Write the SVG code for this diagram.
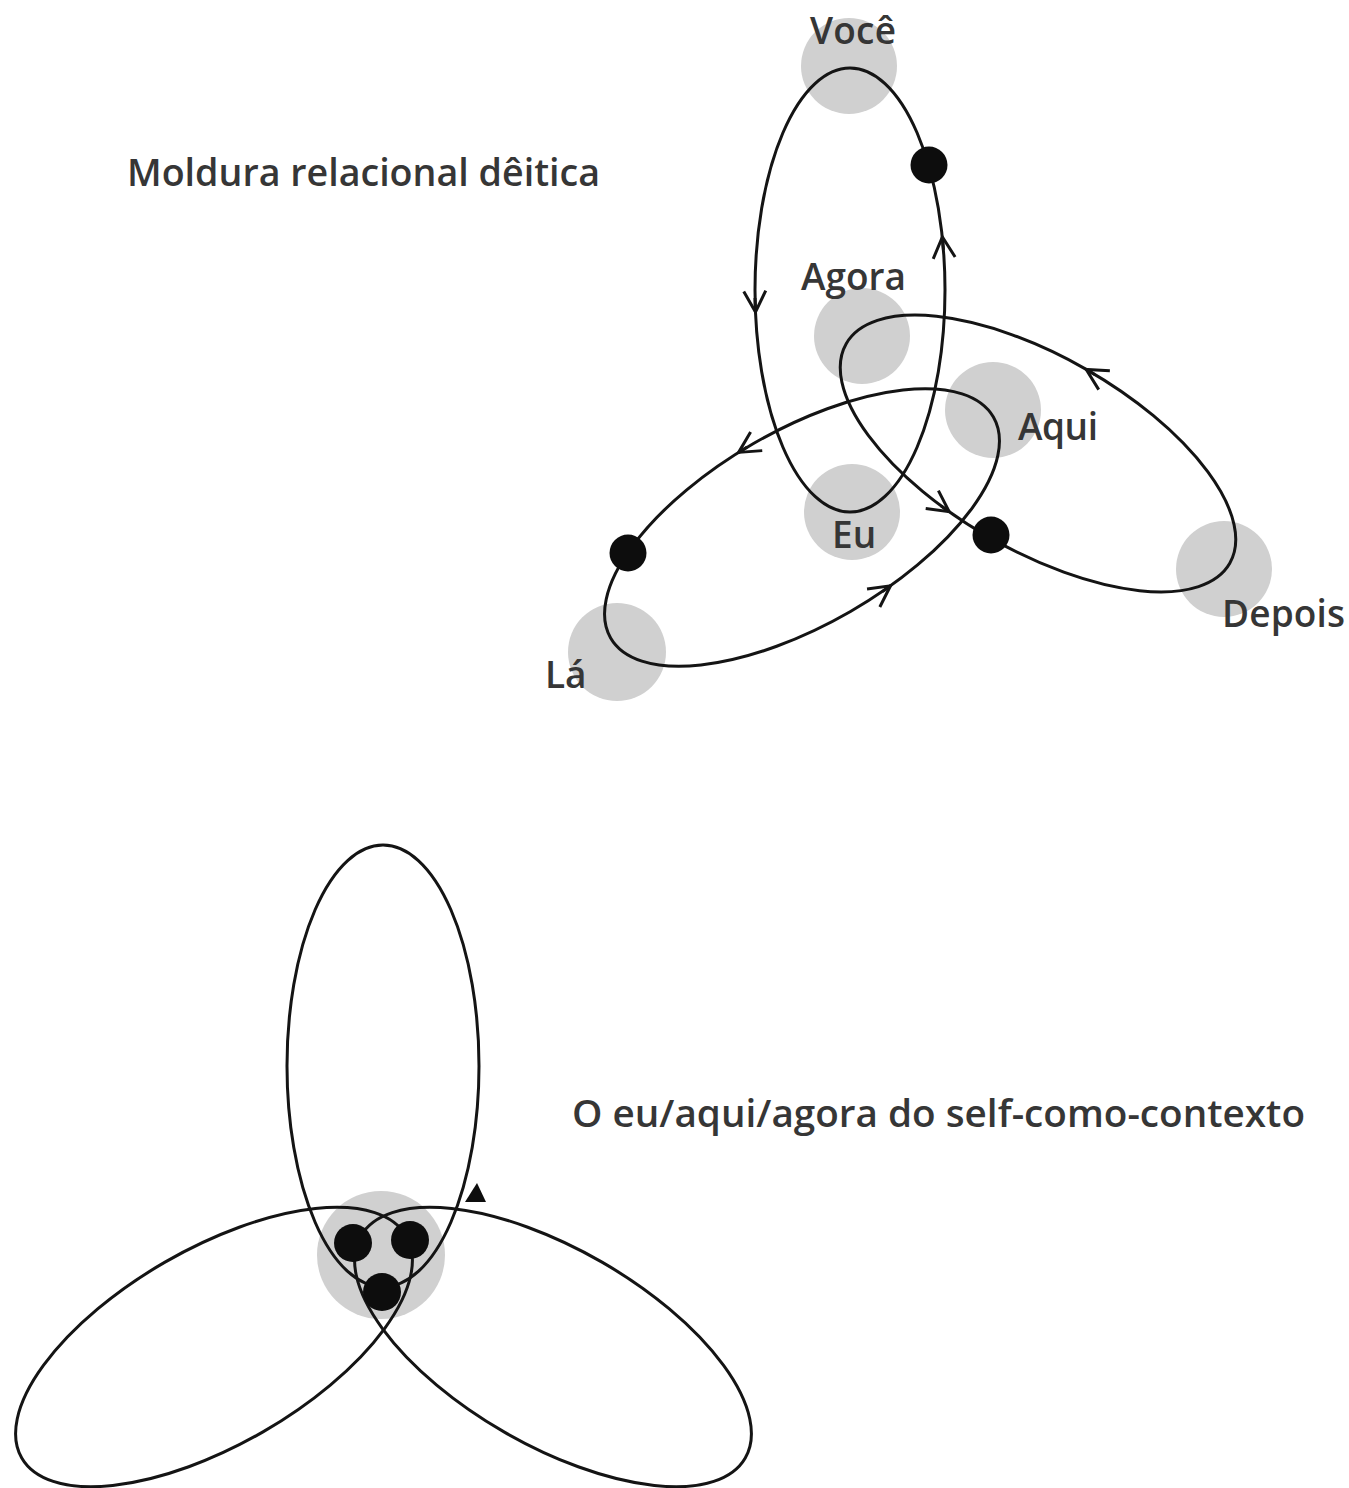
<svg xmlns="http://www.w3.org/2000/svg" width="1349" height="1488" viewBox="0 0 1349 1488">
  <style>
    .bg { fill: #ffffff; }
    .halo { fill: #d0d0d0; }
    .loop { fill: none; stroke: #141414; stroke-width: 3; }
    .loop2 { fill: none; stroke: #141414; stroke-width: 3; }
    .dot { fill: #0d0d0d; }
    .lbl { font-family: "Open Sans", "Noto Sans", "Liberation Sans", sans-serif; font-size: 37px; font-weight: 600; fill: #363636; }
    .ttl { font-family: "Open Sans", "Noto Sans", "Liberation Sans", sans-serif; font-size: 38px; font-weight: 600; fill: #363636; }
    .arr { fill: none; stroke: #141414; stroke-width: 3; }
  </style>
  <defs>
    <marker id="chev" markerUnits="userSpaceOnUse" viewBox="-26 -15 30 30" markerWidth="30" markerHeight="30" refX="0" refY="0" orient="auto">
      <path d="M-21,-11 L0,0 L-21,11" fill="none" stroke="#141414" stroke-width="3" stroke-linejoin="miter"/>
    </marker>
  </defs>
  <rect class="bg" x="0" y="0" width="1349" height="1488"/>

  <!-- Top figure: halos and labels -->
  <g id="node-voce">
    <circle class="halo" cx="849" cy="66" r="48"/>
    <text class="lbl" x="810" y="44" textLength="86">Você</text>
  </g>
  <g id="node-agora">
    <circle class="halo" cx="862" cy="336" r="48"/>
    <text class="lbl" x="801" y="290" textLength="105">Agora</text>
  </g>
  <g id="node-aqui">
    <circle class="halo" cx="993" cy="410" r="48"/>
    <text class="lbl" x="1018" y="440" textLength="80">Aqui</text>
  </g>
  <g id="node-eu">
    <circle class="halo" cx="852" cy="512" r="48"/>
    <text class="lbl" x="832" y="548">Eu</text>
  </g>
  <g id="node-depois">
    <circle class="halo" cx="1224" cy="569" r="48"/>
    <text class="lbl" x="1222" y="627" textLength="123">Depois</text>
  </g>
  <g id="node-la">
    <circle class="halo" cx="617" cy="652" r="49"/>
    <text class="lbl" x="545" y="688">Lá</text>
  </g>

  <g id="title-top">
    <text class="ttl" x="127" y="186" textLength="473" lengthAdjust="spacingAndGlyphs">Moldura relacional dêitica</text>
  </g>

  <!-- Top figure: loops (connectors) -->
  <g id="connectors-top">
    <ellipse class="loop" cx="850" cy="290" rx="95" ry="222"/>
    <ellipse class="loop" cx="1038" cy="453.5" rx="221" ry="97" transform="rotate(29.8 1038 453.5)"/>
    <ellipse class="loop" cx="802" cy="527.5" rx="221" ry="97" transform="rotate(-30 802 527.5)"/>
    <path class="arr" d="M755,298 L755.5,312" marker-end="url(#chev)"/>
    <path class="arr" d="M943.5,250 L942.4,237" marker-end="url(#chev)"/>
    <path class="arr" d="M1094.7,374.5 L1086.2,369.5" marker-end="url(#chev)"/>
    <path class="arr" d="M941,505.9 L949.2,511.7" marker-end="url(#chev)"/>
    <path class="arr" d="M747.1,447.1 L738.6,452.4" marker-end="url(#chev)"/>
    <path class="arr" d="M882.4,591.6 L890.5,585.8" marker-end="url(#chev)"/>
  </g>

  <g id="dot-voce-side"><circle class="dot" cx="929" cy="165" r="18.5"/></g>
  <g id="dot-depois-side"><circle class="dot" cx="991" cy="535" r="18.5"/></g>
  <g id="dot-la-side"><circle class="dot" cx="628" cy="553" r="18.5"/></g>

  <!-- Bottom figure -->
  <g id="node-center">
    <circle class="halo" cx="381" cy="1255" r="64"/>
  </g>
  <g id="connectors-bottom">
    <ellipse class="loop2" cx="383" cy="1066" rx="96" ry="221"/>
    <ellipse class="loop2" cx="553" cy="1347" rx="222" ry="98" transform="rotate(30 553 1347)"/>
    <ellipse class="loop2" cx="214" cy="1347" rx="222" ry="98" transform="rotate(-30 214 1347)"/>
  </g>
  <g id="dot-center-left"><circle class="dot" cx="353" cy="1243" r="19"/></g>
  <g id="dot-center-right"><circle class="dot" cx="410" cy="1240" r="19"/></g>
  <g id="dot-center-bottom"><circle class="dot" cx="382" cy="1292" r="19"/></g>
  <g id="marker-triangle">
    <polygon class="dot" points="477,1183 465,1202 486,1202"/>
  </g>

  <g id="title-bottom">
    <text class="ttl" x="572" y="1127" textLength="733" lengthAdjust="spacingAndGlyphs">O eu/aqui/agora do self-como-contexto</text>
  </g>
</svg>
